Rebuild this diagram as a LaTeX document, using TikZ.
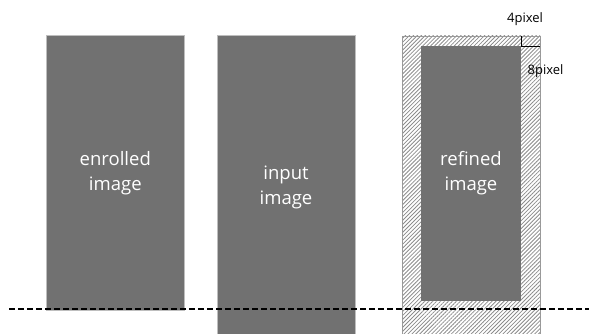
\documentclass[tikz,border=0pt]{standalone}
\usepackage{fontspec}
\setmainfont{Open Sans}
\usetikzlibrary{patterns.meta}
\definecolor{imgfill}{RGB}{113,113,113}
\definecolor{imgedge}{RGB}{190,190,190}
\begin{document}
\begin{tikzpicture}[x=1pt,y=-1pt,
  imgbox/.style={fill=imgfill,draw=imgedge,line width=0.8pt},
  imglabel/.style={text=white,font=\fontsize{18.5}{25}\selectfont,align=center,inner sep=0},
  smalllabel/.style={text=black,font=\fontsize{13}{15}\selectfont,inner sep=0},
  hatchbox/.style={draw=gray!80,line width=0.8pt,pattern={Lines[angle=45,distance=2.8pt,line width=0.8pt]},pattern color=gray!90}]
\useasboundingbox (0,0) rectangle (589,334);
\fill[white] (0,0) rectangle (589,334);
% enrolled
\draw[imgbox] (46.3,35.3) rectangle (184.3,310.5);
\node[imglabel] (enr) at (115.3,173) {enrolled\\image};
% input
\draw[imgbox] (217.3,35.3) rectangle (355,334.5);
\node[imglabel] (inp) at (286,187) {input\\image};
% refined
\draw[hatchbox] (402.7,36) rectangle (540,334.5);
\fill[imgfill] (421,46) rectangle (521,300.7);
\node[imglabel] (ref) at (471,173) {refined\\image};
% dimension marks
\coordinate (a) at (521,36);
\coordinate (b) at (521,46);
\coordinate (c) at (540,46);
\draw[black,line width=0.6pt] (a) -- (b) -- (c);
\node[smalllabel] (p4) at (525,19) {4pixel};
\node[smalllabel] (p8) at (545.5,71) {8pixel};
% dashed baseline
\coordinate (l) at (9,309);
\coordinate (r) at (589,309);
\draw[black,line width=1.5pt,dash pattern=on 6pt off 3pt] (l) -- (r);
\end{tikzpicture}
\end{document}
